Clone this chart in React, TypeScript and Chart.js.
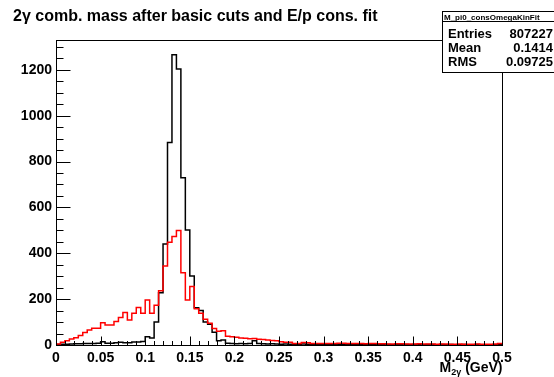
import { useEffect, useRef } from "react";
import { Chart, registerables } from "chart.js";

Chart.register(...registerables);

const FONT = "'Liberation Sans', Arial, Helvetica, sans-serif";

const titleText = "2γ comb. mass after basic cuts and E/p cons. fit";
const axisTitleMain = "M";
const axisTitleSub = "2γ";
const axisTitleUnit = " (GeV)";

const binWidth = 0.005;

// black: all combinations
const blackCounts = [
  2, 3, 3, 4, 5, 5, 6, 6, 7, 8,
  14, 8, 8, 10, 12, 10, 10, 13, 13, 15,
  36, 30, 100, 228, 440, 883, 1266, 1204, 729, 502,
  301, 162, 150, 100, 90, 56, 18, 22, 8, 6,
  5, 6, 5, 6, 18, 6, 5, 4, 5, 4,
  3, 4, 3, 2, 3, 4, 3, 2, 3, 3,
  2, 3, 2, 2, 3, 2, 2, 3, 2, 2,
  2, 3, 2, 2, 2, 1, 2, 2, 2, 1,
  2, 2, 1, 2, 2, 1, 2, 1, 2, 1,
  1, 2, 1, 1, 2, 1, 1, 1, 1, 1,
];

// red: after E/p constrained fit
const redCounts = [
  4, 12, 19, 26, 32, 41, 54, 65, 73, 73,
  97, 87, 87, 102, 120, 142, 109, 138, 164, 138,
  196, 138, 173, 237, 345, 448, 473, 499, 315, 196,
  255, 158, 138, 112, 95, 72, 60, 62, 38, 36,
  34, 30, 29, 27, 28, 25, 24, 22, 20, 19,
  14, 12, 12, 6, 6, 11, 10, 7, 7, 7,
  6, 6, 6, 8, 8, 7, 7, 6, 6, 5,
  6, 6, 5, 5, 4, 4, 5, 5, 4, 4,
  4, 5, 4, 4, 4, 3, 4, 4, 3, 3,
  4, 3, 3, 3, 4, 3, 3, 3, 4, 6,
];

const xTicks = [0, 0.05, 0.1, 0.15, 0.2, 0.25, 0.3, 0.35, 0.4, 0.45, 0.5];
const xTickLabels = ["0", "0.05", "0.1", "0.15", "0.2", "0.25", "0.3", "0.35", "0.4", "0.45", "0.5"];
const xMinorStep = 0.01;
const yTicks = [0, 200, 400, 600, 800, 1000, 1200];
const yTickLabels = ["0", "200", "400", "600", "800", "1000", "1200"];
const yMinorStep = 50;
const xMin = 0;
const xMax = 0.5;
const yMin = 0;
const yMax = 1330;

const statsName = "M_pi0_consOmegaKinFit";
const statsLabels = ["Entries", "Mean", "RMS"];
const statsValues = ["807227", "0.1414", "0.09725"];

function histPoints(counts: number[]) {
  const pts: { x: number; y: number }[] = [{ x: xMin, y: 0 }];
  counts.forEach((v, i) => pts.push({ x: xMin + i * binWidth, y: v }));
  pts.push({ x: xMax, y: counts[counts.length - 1] });
  return pts;
}

const rootFramePlugin = {
  id: "rootFrame",
  afterDraw(chart: any) {
    const { ctx, chartArea } = chart;
    const xs = chart.scales.x;
    const ys = chart.scales.y;
    const L = Math.round(chartArea.left) + 0.5;
    const R = Math.round(chartArea.right) + 0.5;
    const T = Math.round(chartArea.top) + 0.5;
    const B = Math.round(chartArea.bottom) + 0.5;
    ctx.save();
    ctx.strokeStyle = "#000";
    ctx.lineWidth = 1;
    ctx.strokeRect(L, T, R - L, B - T);

    // inward ticks, x axis
    ctx.beginPath();
    for (let k = 0; k <= Math.round((xMax - xMin) / xMinorStep); k++) {
      const v = xMin + k * xMinorStep;
      const px = Math.round(xs.getPixelForValue(v)) + 0.5;
      const major = xTicks.some((t) => Math.abs(t - v) < 1e-9);
      const len = major ? 9 : 4.5;
      ctx.moveTo(px, B);
      ctx.lineTo(px, B - len);
    }
    // inward ticks, y axis
    for (let v = yMin; v <= yMax; v += yMinorStep) {
      const py = Math.round(ys.getPixelForValue(v)) + 0.5;
      const major = yTicks.includes(v);
      const len = major ? 14 : 7;
      ctx.moveTo(L, py);
      ctx.lineTo(L + len, py);
    }
    ctx.stroke();

    // axis title
    ctx.fillStyle = "#000";
    ctx.textBaseline = "alphabetic";
    ctx.textAlign = "left";
    const mainFont = `bold 14px ${FONT}`;
    const subFont = `bold 9px ${FONT}`;
    ctx.font = mainFont;
    const wMain = ctx.measureText(axisTitleMain).width;
    const wUnit = ctx.measureText(axisTitleUnit).width;
    ctx.font = subFont;
    const wSub = ctx.measureText(axisTitleSub).width;
    let ax = R - (wMain + wSub + wUnit);
    const base = 372;
    ctx.font = mainFont;
    ctx.fillText(axisTitleMain, ax, base);
    ax += wMain;
    ctx.font = subFont;
    ctx.fillText(axisTitleSub, ax, base + 3);
    ax += wSub;
    ctx.font = mainFont;
    ctx.fillText(axisTitleUnit, ax, base);

    // stats box
    const bx = 442.5, by = 11.5, bw = 130, bh = 61;
    ctx.fillStyle = "#fff";
    ctx.fillRect(bx, by, bw, bh);
    ctx.strokeRect(bx, by, bw, bh);
    ctx.beginPath();
    ctx.moveTo(bx, 21.5);
    ctx.lineTo(bx + bw, 21.5);
    ctx.stroke();
    ctx.fillStyle = "#000";
    ctx.font = `bold 8px ${FONT}`;
    ctx.fillText(statsName, 444, 19.5);
    ctx.font = `bold 13px ${FONT}`;
    const rowBase = [38, 52, 66];
    statsLabels.forEach((lab, i) => {
      ctx.textAlign = "left";
      ctx.fillText(lab, 448, rowBase[i]);
      ctx.textAlign = "right";
      ctx.fillText(statsValues[i], 553, rowBase[i]);
    });
    ctx.restore();
  },
};

export default function App() {
  const ref = useRef<HTMLCanvasElement | null>(null);
  useEffect(() => {
    document.body.style.margin = "0";
    const canvas = ref.current;
    if (!canvas) return;
    const tickFont = { family: FONT, size: 14, weight: "bold" as const };
    const chart = new Chart(canvas, {
      type: "line",
      data: {
        datasets: [
          {
            label: "after fit",
            data: histPoints(redCounts),
            borderColor: "#ff0000",
            borderWidth: 1.5,
            pointRadius: 0,
            fill: false,
            stepped: "before",
          },
          {
            label: "all",
            data: histPoints(blackCounts),
            borderColor: "#000000",
            borderWidth: 1.5,
            pointRadius: 0,
            fill: false,
            stepped: "before",
          },
        ],
      },
      options: {
        animation: false,
        responsive: false,
        maintainAspectRatio: false,
        parsing: false,
        events: [],
        layout: { padding: { left: 13, right: 52, top: 0, bottom: 0 } },
        plugins: {
          legend: { display: false },
          tooltip: { enabled: false },
          title: {
            display: true,
            text: titleText,
            align: "start",
            color: "#000",
            font: { family: FONT, size: 16, weight: "bold" },
            padding: { top: 7, bottom: 13.8 },
          },
        },
        scales: {
          x: {
            type: "linear",
            min: xMin,
            max: xMax,
            grid: { display: false, drawTicks: false },
            border: { display: false },
            ticks: {
              color: "#000",
              font: tickFont,
              padding: 5,
              autoSkip: false,
              maxRotation: 0,
              callback: (_v: any, i: number) => xTickLabels[i],
            },
            afterBuildTicks: (s: any) => {
              s.ticks = xTicks.map((v) => ({ value: v }));
            },
            afterFit: (s: any) => {
              s.height = 32;
            },
          },
          y: {
            type: "linear",
            min: yMin,
            max: yMax,
            grid: { display: false, drawTicks: false },
            border: { display: false },
            ticks: {
              color: "#000",
              font: tickFont,
              padding: 4,
              autoSkip: false,
              callback: (_v: any, i: number) => yTickLabels[i],
            },
            afterBuildTicks: (s: any) => {
              s.ticks = yTicks.map((v) => ({ value: v }));
            },
            afterFit: (s: any) => {
              s.width = 43;
            },
          },
        },
      },
      plugins: [rootFramePlugin],
    });
    return () => chart.destroy();
  }, []);
  return (
    <div style={{ position: "relative", width: 554, height: 377, background: "#fff" }}>
      <canvas ref={ref} width={554} height={377} style={{ display: "block", width: 554, height: 377 }} />
    </div>
  );
}
